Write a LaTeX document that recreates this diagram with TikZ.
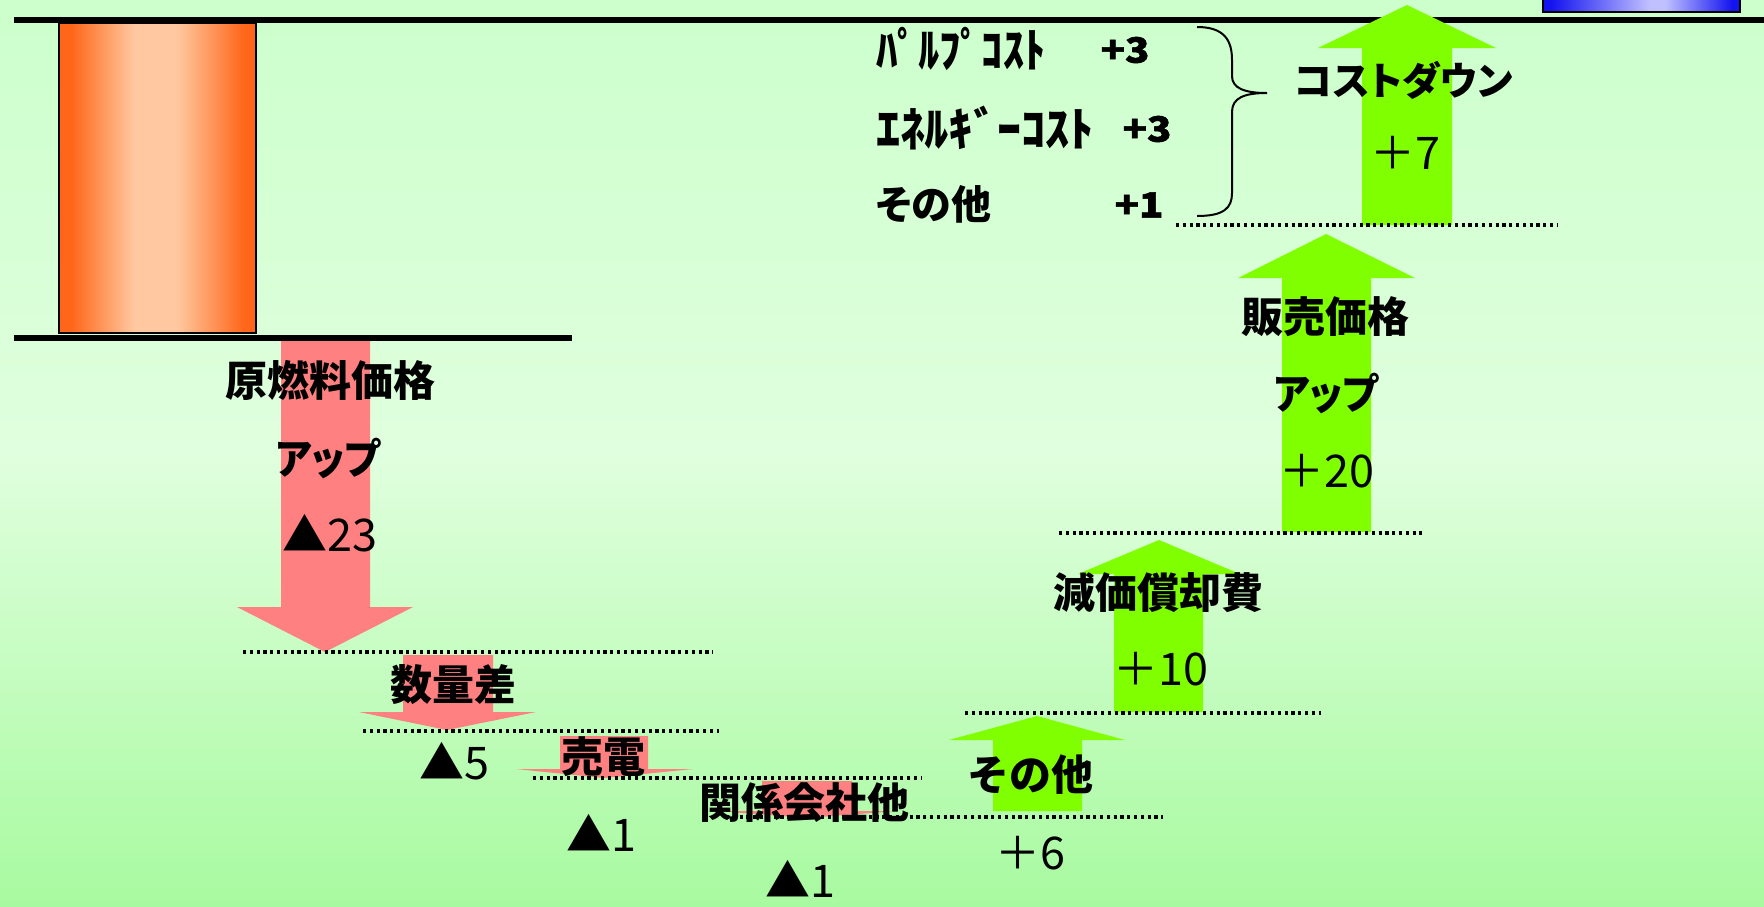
\documentclass[tikz,border=0pt]{standalone}
\usepackage{fontspec}
\newfontfamily\jp{Noto Sans CJK JP}
\newfontfamily\jpp{Noto Sans CJK JP}[RawFeature=+palt]
\newfontfamily\jph{Noto Sans CJK JP}[BoldFeatures={FakeBold=1.5}]
\definecolor{bgtop}{RGB}{204,255,204}
\definecolor{bgmid}{RGB}{224,255,222}
\definecolor{bgbot}{RGB}{168,250,160}
\definecolor{redar}{RGB}{255,128,128}
\definecolor{grnar}{RGB}{128,255,0}
\definecolor{orgE}{RGB}{255,102,25}
\definecolor{orgC}{RGB}{255,200,160}
\definecolor{bluE}{RGB}{20,20,240}
\definecolor{bluC}{RGB}{192,192,255}
\pgfdeclarehorizontalshading{barshade}{100bp}{color(0bp)=(orgE); color(28bp)=(orgE); color(44bp)=(orgC); color(55bp)=(orgC); color(72bp)=(orgE); color(100bp)=(orgE)}
\pgfdeclarehorizontalshading{blueshade}{100bp}{color(0bp)=(bluE); color(27bp)=(bluE); color(52bp)=(bluC); color(56bp)=(bluC); color(73bp)=(bluE); color(100bp)=(bluE)}
\newcommand{\symb}[1]{{\fontsize{45}{45}\selectfont #1}}
\begin{document}
\begin{tikzpicture}[x=1pt,y=-1pt,
  lbl/.style={font=\jp\bfseries\fontsize{42}{46}\selectfont, inner sep=0pt},
  kana/.style={font=\jpp\bfseries\fontsize{42}{46}\selectfont, inner sep=0pt},
  num/.style={font=\jp\fontsize{45}{48}\selectfont, inner sep=0pt},
  small/.style={font=\jpp\bfseries\fontsize{47}{50}\selectfont, inner sep=0pt, anchor=west},
  smallk/.style={font=\jpp\bfseries\fontsize{40}{44}\selectfont, inner sep=0pt, anchor=west},
  smallnum/.style={font=\jph\bfseries\fontsize{35}{38}\selectfont, inner sep=0pt, xscale=1.15},
  dotline/.style={line width=3.2pt, dash pattern=on 3.2pt off 3.6pt},
  redarrow/.style={fill=redar},
  grnarrow/.style={fill=grnar},
  rule/.style={line width=6pt}]
\useasboundingbox (0,0) rectangle (1764,906);
% background
\shade[top color=bgtop, bottom color=bgbot, middle color=bgmid] (0,0) rectangle (1764,906);
% bar
\shade[shading=barshade] (59,23) rectangle (256,333);
\draw[line width=2.5pt] (59,23) rectangle (256,333);
% blue bar
\shade[shading=blueshade] (1543,-2) rectangle (1740,12);
\draw[line width=2pt] (1543,-2) rectangle (1740,12);
% rules
\draw[rule] (14,20) -- (1764,20);
\draw[rule] (14,338) -- (572,338);
% red arrows
\fill[redarrow] (281,341) -- (370,341) -- (370,607) -- (413,607) -- (325,652) -- (237,607) -- (281,607) -- cycle;
\fill[redarrow] (403,655) -- (493,655) -- (493,712) -- (536,712) -- (447,730) -- (359,712) -- (403,712) -- cycle;
\fill[redarrow] (560,736) -- (648,736) -- (648,769) -- (693,769) -- (604,778) -- (516,769) -- (560,769) -- cycle;
\fill[redarrow] (762,781) -- (852,781) -- (852,811) -- (896,811) -- (807,818) -- (718,811) -- (762,811) -- cycle;
% green arrows
\fill[grnarrow] (993,811) -- (1082,811) -- (1082,740) -- (1125,740) -- (1037,716) -- (949,740) -- (993,740) -- cycle;
\fill[grnarrow] (1114,712) -- (1203,712) -- (1203,574) -- (1240,574) -- (1159,540) -- (1078,574) -- (1114,574) -- cycle;
\fill[grnarrow] (1282,532) -- (1371,532) -- (1371,278) -- (1415,278) -- (1326,234) -- (1238,278) -- (1282,278) -- cycle;
\fill[grnarrow] (1362,225) -- (1452,225) -- (1452,48) -- (1496,48) -- (1407,5) -- (1318,48) -- (1362,48) -- cycle;
% dotted lines
\draw[dotline] (243,652) -- (713,652);
\draw[dotline] (363,731) -- (719,731);
\draw[dotline] (533,778) -- (922,778);
\draw[dotline] (726,817) -- (1163,817);
\draw[dotline] (965,713) -- (1321,713);
\draw[dotline] (1059,533) -- (1422,533);
\draw[dotline] (1176,225) -- (1558,225);
% brace
\draw[line width=2pt] (1197,27) .. controls (1224,27) and (1232,40) .. (1232,60) -- (1232,76) .. controls (1232,88) and (1244,93) .. (1267,93) .. controls (1244,93) and (1232,98) .. (1232,112) -- (1232,193) .. controls (1232,208) and (1224,216) .. (1197,216);
% labels
\node[lbl] (genryo) at (330,380) {原燃料価格};
\node[kana, xscale=0.92] (up1) at (328,458) {アップ};
\node[num] (v23) at (330,533) {\symb{▲}23};
\node[lbl] (suryo) at (453,685) {数量差};
\node[num] (v5) at (454,761) {\symb{▲}5};
\node[lbl] (baiden) at (603,757) {売電};
\node[num] (v1a) at (601,833) {\symb{▲}1};
\node[lbl] (kankei) at (804,803) {関係会社他};
\node[num] (v1b) at (800,879) {\symb{▲}1};
\node[lbl] (sonota) at (1030,775) {その他};
\node[num] (v6) at (1030,853) {\symb{＋}6};
\node[lbl] (genka) at (1158,593) {減価償却費};
\node[num] (v10) at (1161,669) {\symb{＋}10};
\node[lbl] (hanbai) at (1325,317) {販売価格};
\node[kana, xscale=0.92] (up2) at (1326,393) {アップ};
\node[num] (v20) at (1327,471) {\symb{＋}20};
\node[kana, font=\jpp\bfseries\fontsize{39}{44}\selectfont] (cost) at (1404,80) {コストダウン};
\node[num] (v7) at (1405,153) {\symb{＋}7};
\node[small, xscale=0.9] (pulp) at (876,49) {ﾊﾟﾙﾌﾟｺｽﾄ};
\node[smallnum] (p3a) at (1125,50) {+3};
\node[small, xscale=1.03] (ene) at (876,128) {ｴﾈﾙｷﾞｰｺｽﾄ};
\node[smallnum] (p3b) at (1147,129) {+3};
\node[smallk] (oth) at (876,204) {その他};
\node[smallnum] (p1) at (1139,205) {+1};
\end{tikzpicture}
\end{document}
